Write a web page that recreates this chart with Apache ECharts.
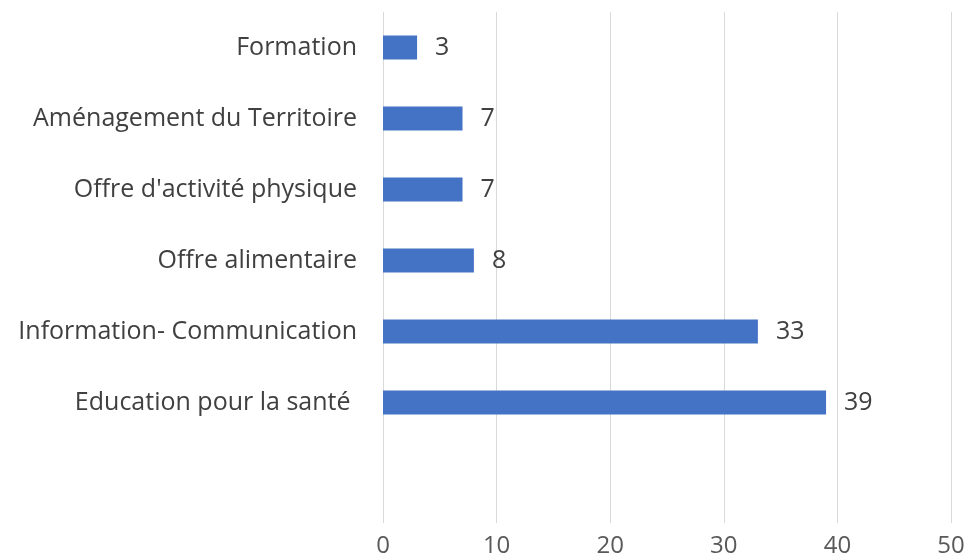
<!DOCTYPE html>
<html><head><meta charset="utf-8">
<script src="https://cdn.jsdelivr.net/npm/echarts@6/dist/echarts.min.js"></script>
<style>html,body{margin:0;padding:0;background:#fff}#c{width:970px;height:560px}</style>
</head><body><div id="c"></div>
<script>
const categories = ["Formation", "Aménagement du Territoire", "Offre d'activité physique", "Offre alimentaire", "Information- Communication", "Education pour la santé "];
const values = [3, 7, 7, 8, 33, 39];
const xTicks = [0, 10, 20, 30, 40, 50];

const chart = echarts.init(document.getElementById('c'));
const fontFam = "'Open Sans', sans-serif";
const gridLine = {show: true, lineStyle: {color: '#d9d9d9', width: 1}};
chart.setOption({
  animation: false,
  grid: [
    {left: 383, top: 12, width: 568, height: 426},
    {left: 383, top: 438, width: 568, height: 85}
  ],
  xAxis: [
    {gridIndex: 0, type: 'value', min: xTicks[0], max: xTicks[xTicks.length-1], interval: 10,
     axisLabel: {show: false}, axisLine: {show: false}, axisTick: {show: false}, splitLine: gridLine},
    {gridIndex: 1, type: 'value', min: xTicks[0], max: xTicks[xTicks.length-1], interval: 10,
     axisLabel: {show: true, color: '#595959', fontSize: 24, fontFamily: fontFam, margin: 11},
     axisLine: {show: false}, axisTick: {show: false}, splitLine: gridLine}
  ],
  yAxis: [
    {gridIndex: 0, type: 'category', data: categories, inverse: true,
     axisLine: {show: false}, axisTick: {show: false},
     axisLabel: {color: '#404040', fontSize: 25, fontFamily: fontFam, margin: 26}},
    {gridIndex: 1, type: 'category', data: [''], show: false}
  ],
  series: [{
    type: 'bar', xAxisIndex: 0, yAxisIndex: 0, data: values, barWidth: 24,
    itemStyle: {color: '#4472C4'},
    label: {show: true, position: 'right', distance: 18, color: '#404040', fontSize: 25, fontFamily: fontFam}
  }]
});
</script></body></html>
